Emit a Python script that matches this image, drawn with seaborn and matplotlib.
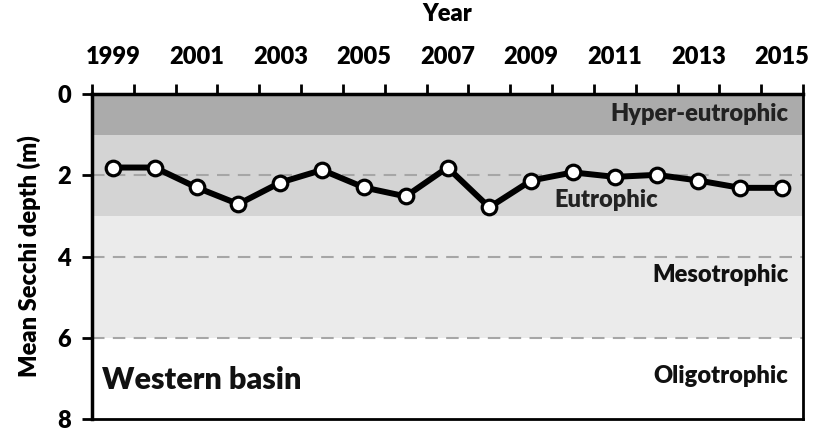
import matplotlib
matplotlib.use("Agg")
import matplotlib.pyplot as plt
import seaborn as sns
import pandas as pd

# data
years = list(range(1999, 2016))
secchi = [1.81, 1.81, 2.30, 2.71, 2.18, 1.87, 2.30, 2.52, 1.81, 2.79,
          2.13, 1.93, 2.04, 1.99, 2.13, 2.31, 2.31]
band_edges = [0, 1, 3, 6, 8]
band_names = ["Hyper-eutrophic", "Eutrophic", "Mesotrophic", "Oligotrophic"]
band_colors = ["#ababab", "#d4d4d4", "#ebebeb", "#ffffff"]
dash_levels = [2, 4, 6]
tick_years = [str(y) for y in years[::2]]

sns.set_theme(style="white")
plt.rcParams["font.family"] = ["Lato", "DejaVu Sans"]
W = "heavy"

df = pd.DataFrame({"Year": [str(y) for y in years], "Secchi": secchi})

fig = plt.figure(figsize=(8.14, 4.32), dpi=100)
ax = fig.add_axes([92 / 814, 1 - 419 / 432, 711 / 814, 325 / 432])

for lo, hi, c in zip(band_edges[:-1], band_edges[1:], band_colors):
    ax.axhspan(lo, hi, color=c, zorder=0, lw=0)
for lv in dash_levels:
    ax.axhline(lv, color="#a6a6a6", lw=1.5, ls=(0, (6, 4)), zorder=1)

sns.lineplot(data=df, x="Year", y="Secchi", ax=ax, color="black", lw=4.3,
             marker="o", markersize=10.5, markerfacecolor="white",
             markeredgecolor="black", markeredgewidth=2.3, zorder=3, sort=False)

ax.set_xlim(-0.5, len(years) - 0.5)
ax.set_ylim(8, 0)
ax.set_yticks([0, 2, 4, 6, 8])
ax.set_yticklabels(["0", "2", "4", "6", "8"], fontsize=17, fontweight=W, color="black")
ax.xaxis.tick_top()
ax.xaxis.set_label_position("top")
ax.set_xticks(range(0, len(years), 2))
ax.set_xticklabels(tick_years, fontsize=17, fontweight=W, color="black")
ax.set_xticks([i - 0.5 for i in range(len(years) + 1)], minor=True)
ax.tick_params(axis="x", which="major", length=0, pad=19)
ax.tick_params(axis="x", which="minor", top=True, bottom=False, direction="out",
               length=7, width=2, color="black")
ax.tick_params(axis="y", which="major", left=True, direction="out", length=7,
               width=2, color="black", pad=8)
ax.set_xlabel("Year", fontsize=17, fontweight=W, color="black", labelpad=18)
ax.set_ylabel("Mean Secchi depth (m)", fontsize=17, fontweight=W, color="black", labelpad=12)

for side in ["left", "top", "bottom", "right"]:
    ax.spines[side].set_visible(True)
    ax.spines[side].set_color("black")
    ax.spines[side].set_linewidth(2)
ax.spines["left"].set_linewidth(2.5)
ax.spines["top"].set_linewidth(2.5)

xr = len(years) - 0.85
ax.text(xr, 0.5, band_names[0], ha="right", va="center", fontsize=17, fontweight=W, color="#222222")
ax.text(11.8, 2.6, band_names[1], ha="center", va="center", fontsize=17, fontweight=W, color="#222222")
ax.text(xr, 4.45, band_names[2], ha="right", va="center", fontsize=17, fontweight=W, color="#111111")
ax.text(xr, 6.95, band_names[3], ha="right", va="center", fontsize=17, fontweight=W, color="#111111")
ax.text(-0.25, 7.05, "Western basin", ha="left", va="center", fontsize=22, fontweight=W, color="#111111")

fig.savefig("out.png", dpi=100)
